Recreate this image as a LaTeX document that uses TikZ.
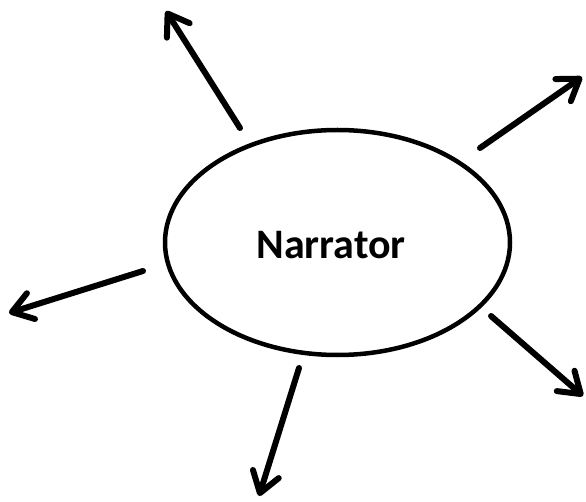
\documentclass[tikz,border=0pt]{standalone}
\usepackage{fontspec}
\setmainfont{Carlito}
\usetikzlibrary{shapes.geometric,arrows.meta}
\tikzset{
  bubble/.style={draw=black, line width=4.5pt, ellipse, minimum width=345pt, minimum height=225pt, inner sep=0pt},
  lbl/.style={font=\fontsize{42pt}{50pt}\selectfont\bfseries, inner sep=0pt},
  ray/.style={draw=black, line width=6pt, line cap=round,
    -{Straight Barb[length=20pt, width=27pt, line cap=round, line join=round]}}
}
\begin{document}
\begin{tikzpicture}[x=1pt, y=-1pt]
\useasboundingbox (0,0) rectangle (586,502);
\node[bubble] (n) at (337.5,242.5) {};
\node[lbl] (t) at (331,245) {Narrator};
\coordinate (a1) at (240,128); \coordinate (b1) at (166,11);
\coordinate (a2) at (480,148); \coordinate (b2) at (582,77);
\coordinate (a3) at (143,271); \coordinate (b3) at (9,313);
\coordinate (a4) at (491,316); \coordinate (b4) at (583,396);
\coordinate (a5) at (299,368); \coordinate (b5) at (259,496);
\draw[ray] (a1) -- (b1);
\draw[ray] (a2) -- (b2);
\draw[ray] (a3) -- (b3);
\draw[ray] (a4) -- (b4);
\draw[ray] (a5) -- (b5);
\end{tikzpicture}
\end{document}
